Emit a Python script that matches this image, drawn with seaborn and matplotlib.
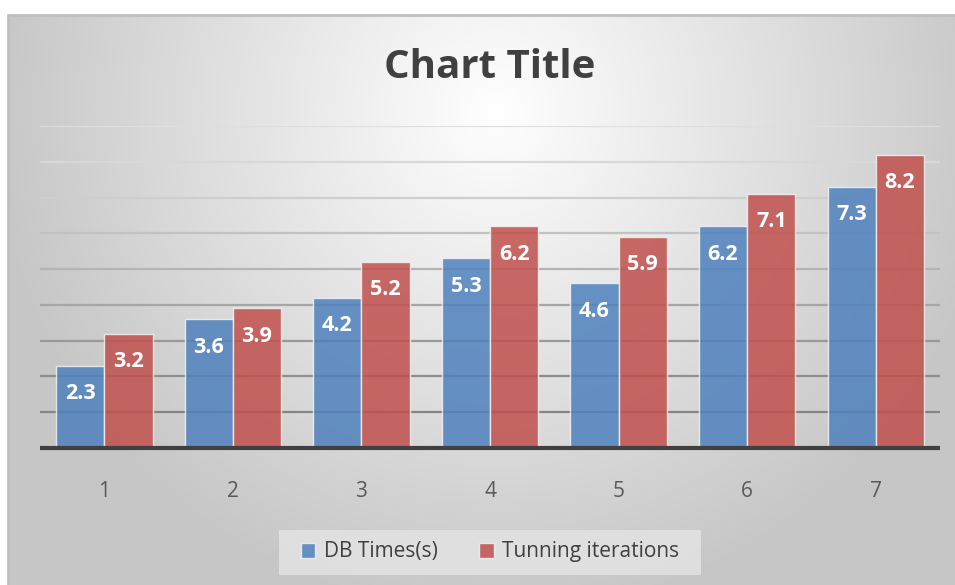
import numpy as np
import pandas as pd
import matplotlib
matplotlib.use("Agg")
import matplotlib.pyplot as plt
from matplotlib.patches import Patch, Rectangle
import seaborn as sns

# data
categories = ["1", "2", "3", "4", "5", "6", "7"]
db_times = [2.3, 3.6, 4.2, 5.3, 4.6, 6.2, 7.3]
tunning_iterations = [3.2, 3.9, 5.2, 6.2, 5.9, 7.1, 8.2]
series_names = ["DB Times(s)", "Tunning iterations"]
colors = ["#4f81bd", "#c0504d"]

df = pd.DataFrame({
    "cat": categories * 2,
    "value": db_times + tunning_iterations,
    "series": [series_names[0]] * 7 + [series_names[1]] * 7,
})

sns.set_style("white")
plt.rcParams["font.family"] = ["Open Sans", "DejaVu Sans"]

W, H = 955, 585
fig = plt.figure(figsize=(W / 100, H / 100), dpi=100, facecolor="white")

# radial gradient background of the chart area
x0, y0 = 8, 15
bg = fig.add_axes([x0 / W, 0, 1 - x0 / W, 1 - y0 / H], zorder=0)
yy, xx = np.mgrid[y0:H, x0:W]
d = np.hypot(xx - 495, yy - 110) / 500.0
g = np.clip(1 - 0.22 * d, 0.78, 1)
bg.imshow(np.dstack([g, g, g]), aspect="auto", extent=[0, 1, 0, 1])
bg.set_axis_off()
# frame lines top and left
fig.add_artist(plt.Line2D([x0 / W, 1], [1 - y0 / H] * 2, color="#bfbfbf", lw=2))
fig.add_artist(plt.Line2D([x0 / W] * 2, [0, 1 - y0 / H], color="#bfbfbf", lw=2))

ax = fig.add_axes([40 / W, (H - 448) / H, 900 / W, (448 - 126) / H], zorder=2)
ax.set_facecolor("none")

sns.barplot(data=df, x="cat", y="value", hue="series", palette=colors,
            saturation=1, width=0.75, alpha=0.85, edgecolor="#f2f2f2", linewidth=1,
            ax=ax, legend=False, zorder=3)

ax.set_ylim(0, 9)
ax.set_xlim(-0.5, 6.5)

# gridlines, darker near the bottom
grid_cols = ["#858585", "#8e8e8e", "#999999", "#a6a6a6", "#b4b4b4",
             "#c2c2c2", "#cecece", "#d8d8d8", "#dedede"]
for i, c in enumerate(grid_cols, start=1):
    ax.axhline(i, color=c, lw=1.6, zorder=1)
ax.axhline(0, color="#404040", lw=3, zorder=4, clip_on=False, solid_capstyle="butt")

for cont in ax.containers:
    for bar in cont:
        h = bar.get_height()
        ax.annotate(f"{h:.1f}", (bar.get_x() + bar.get_width() / 2, h),
                    xytext=(0, -28), textcoords="offset pixels",
                    ha="center", va="center", color="white",
                    fontsize=15.5, fontweight="bold", zorder=5)

for s in ax.spines.values():
    s.set_visible(False)
ax.set_yticks([])
ax.set_xlabel("")
ax.set_ylabel("")
ax.tick_params(axis="x", length=0, pad=24, labelsize=15, labelcolor="#595959")

fig.text(0.513, (H - 67) / H, "Chart Title", ha="center", va="center",
         fontsize=29, fontweight="bold", color="#404040")

# legend box
fig.add_artist(Rectangle((279 / W, (H - 575) / H), 422 / W, 45 / H,
                         transform=fig.transFigure, facecolor="#e3e3e3",
                         edgecolor="none", alpha=0.85, zorder=1))
handles = [Patch(facecolor=c, alpha=0.85, edgecolor="#f2f2f2") for c in colors]
leg = fig.legend(handles, series_names, loc="center", bbox_to_anchor=(0.513, (H - 552) / H),
                 ncol=2, frameon=False, fontsize=15, handlelength=0.7, handleheight=0.7,
                 handletextpad=0.4, columnspacing=2.0, labelcolor="#404040")
leg.set_zorder(3)

fig.savefig("out.png", dpi=100)
